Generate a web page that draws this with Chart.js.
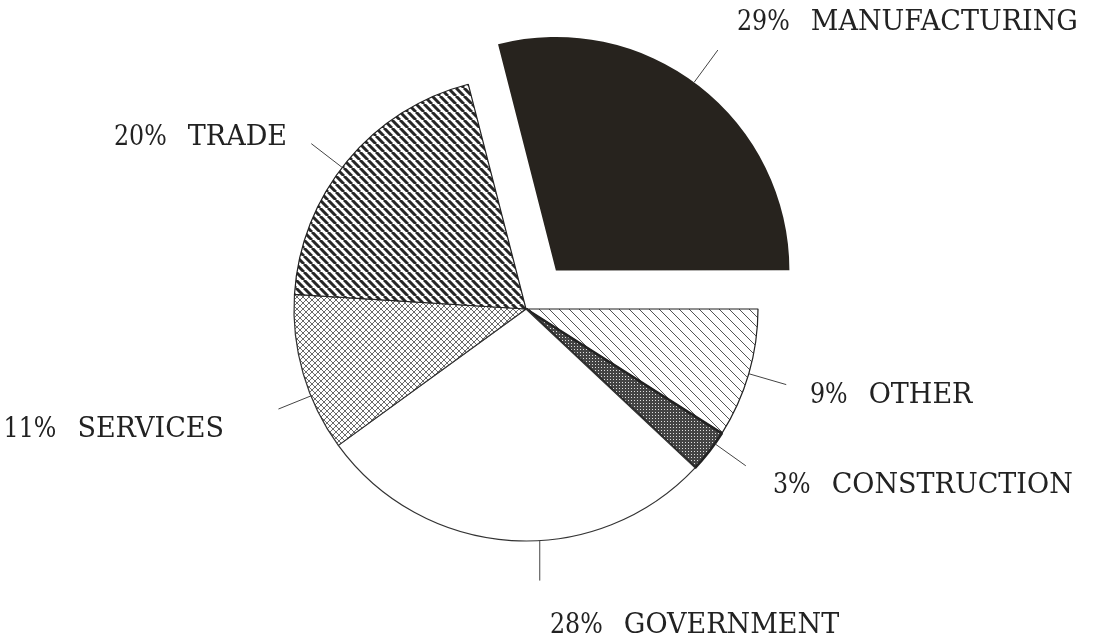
<!DOCTYPE html>
<html><head><meta charset="utf-8">
<script src="https://cdn.jsdelivr.net/npm/chart.js@4/dist/chart.umd.min.js"></script>
<style>html,body{margin:0;padding:0;background:#fff;}#wrap{width:1098px;height:637px;}</style>
</head><body><div id="wrap"><canvas id="c" width="1098" height="637"></canvas></div>
<script>
const categories = ['MANUFACTURING', 'OTHER', 'CONSTRUCTION', 'GOVERNMENT', 'SERVICES', 'TRADE'];
const shares = [29, 9, 3, 28, 11, 20];
const pctLabels = ['29%', '9%', '3%', '28%', '11%', '20%'];

// label layout (annotation placement only)
const labelLayout = [
  {shift: -1.5, len: 40, align: 'left',  x: 737, y: 30},
  {shift: 0,    len: 39, align: 'left',  x: 810, y: 403},
  {shift: -2.3, len: 38, align: 'left',  x: 773, y: 493},
  {shift: -7,   len: 40, align: 'left',  x: 550, y: 633, vertical: true},
  {shift: -5.8, len: 35, align: 'right', x: 224, y: 437},
  {shift: -2,   len: 39, align: 'right', x: 287, y: 145}
];
const NAME_FONT = '27px "DejaVu Serif"';
const PCT_FONT = '27px "DejaVu Serif"';
const PCT_SQUEEZE = 0.88;
const GAP = 21;

const cv = document.getElementById('c');
const ctx = cv.getContext('2d');

function tile(size, draw) {
  const c = document.createElement('canvas');
  c.width = c.height = size;
  const g = c.getContext('2d');
  g.fillStyle = '#fff';
  g.fillRect(0, 0, size, size);
  draw(g, size);
  return ctx.createPattern(c, 'repeat');
}
function back(g, s) { for (let k = -1; k <= 1; k++) { g.moveTo(k * s, 0); g.lineTo(k * s + s, s); } }
function fwd(g, s) { for (let k = -1; k <= 1; k++) { g.moveTo(k * s, s); g.lineTo(k * s + s, 0); } }

const pTrade = tile(8, (g, s) => { g.strokeStyle = '#262626'; g.lineWidth = 3; g.beginPath(); back(g, s); g.stroke(); });
const pOther = tile(10, (g, s) => { g.strokeStyle = '#555'; g.lineWidth = 1; g.beginPath(); back(g, s); g.stroke(); });
const pServ = tile(6, (g, s) => { g.strokeStyle = '#6a6a6a'; g.lineWidth = 1; g.beginPath(); back(g, s); fwd(g, s); g.stroke(); });
const pCons = tile(3, (g, s) => { g.fillStyle = '#444'; g.fillRect(0, 0, s, s); g.fillStyle = '#e0e0e0'; g.fillRect(1, 1, 1, 1); });

const fills = ['#27231e', pOther, pCons, '#ffffff', pServ, pTrade];

const leaderPlugin = {
  id: 'leaders',
  afterDatasetsDraw(chart) {
    const c = chart.ctx;
    const meta = chart.getDatasetMeta(0);
    c.save();
    meta.data.forEach((arc, i) => {
      const p = arc.getProps(['x', 'y', 'startAngle', 'endAngle', 'outerRadius', 'circumference'], true);
      const off = (arc.options.offset || 0) / 4;
      const mid = (p.startAngle + p.endAngle) / 2;
      const fix = 1 - Math.sin(Math.min(Math.PI, p.circumference || 0));
      const sh = off * (1 + fix);
      const cx = p.x + Math.cos(mid) * sh, cy = p.y + Math.sin(mid) * sh;
      const L = labelLayout[i];
      const a = mid + L.shift * Math.PI / 180;
      const x0 = cx + Math.cos(a) * p.outerRadius, y0 = cy + Math.sin(a) * p.outerRadius;
      let x1, y1;
      if (L.vertical) { x1 = x0; y1 = y0 + L.len; }
      else { x1 = cx + Math.cos(a) * (p.outerRadius + L.len); y1 = cy + Math.sin(a) * (p.outerRadius + L.len); }
      c.strokeStyle = '#444'; c.lineWidth = 1;
      c.beginPath(); c.moveTo(x0, y0); c.lineTo(x1, y1); c.stroke();

      c.fillStyle = '#222'; c.textBaseline = 'alphabetic'; c.textAlign = 'left';
      c.font = PCT_FONT;
      const pw = c.measureText(pctLabels[i]).width * PCT_SQUEEZE;
      c.font = NAME_FONT;
      const nw = c.measureText(categories[i]).width;
      let px, nx;
      if (L.align === 'left') { px = L.x; nx = L.x + pw + GAP; }
      else { nx = L.x - nw; px = nx - GAP - pw; }
      c.font = PCT_FONT;
      c.save();
      c.translate(px, L.y);
      c.scale(PCT_SQUEEZE, 1);
      c.fillText(pctLabels[i], 0, 0);
      c.restore();
      c.font = NAME_FONT;
      c.fillText(categories[i], nx, L.y);
    });
    c.restore();
  }
};

new Chart(ctx, {
  type: 'pie',
  data: {
    labels: categories,
    datasets: [{
      data: shares,
      backgroundColor: fills,
      borderColor: ['#27231e', '#222', '#222', '#333', '#333', '#222'],
      borderWidth: [0, 1.2, 2.6, 1.2, 1.2, 1.2],
      offset: [195, 0, 0, 0, 0, 0]
    }]
  },
  options: {
    responsive: false,
    animation: false,
    rotation: 90 - shares[0] / 100 * 360,
    radius: 232,
    layout: {padding: {left: 0, right: 46, top: 0, bottom: 19}},
    plugins: {legend: {display: false}, tooltip: {enabled: false}}
  },
  plugins: [leaderPlugin]
});
</script>
</body></html>
